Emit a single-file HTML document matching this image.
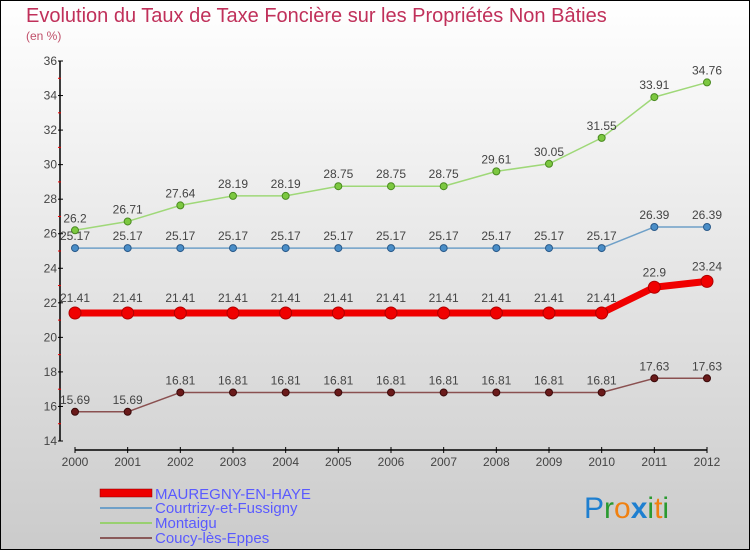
<!DOCTYPE html>
<html><head><meta charset="utf-8"><style>
body{margin:0}
#c{width:750px;height:550px;position:relative;overflow:hidden;font-family:"Liberation Sans",sans-serif}
</style></head><body>
<div id="c">
<svg id="s" width="750" height="550" xmlns="http://www.w3.org/2000/svg" font-family="Liberation Sans, sans-serif">
<defs><linearGradient id="bg" x1="0" y1="0" x2="0" y2="1"><stop offset="0" stop-color="#ffffff"/><stop offset="1" stop-color="#cbcbcb"/></linearGradient></defs>
<rect x="0.5" y="0.5" width="749" height="549" fill="url(#bg)" stroke="#000"/>
<text x="26" y="22" font-size="20" fill="#c0305a">Evolution du Taux de Taxe Foncière sur les Propriétés Non Bâties</text>
<text x="26" y="40" font-size="12" fill="#c0506a">(en %)</text>
<g id="axes"></g><g id="series"></g>
<g>
<rect x="100" y="489" width="52" height="8" fill="#e00" stroke="#800" stroke-width="0.5"/>
<text x="155" y="499" font-size="15" fill="#5a5aff">MAUREGNY-EN-HAYE</text>
<line x1="100" y1="508" x2="152" y2="508" stroke="#6fa0c8" stroke-width="2"/>
<text x="155" y="513" font-size="15" fill="#5a5aff">Courtrizy-et-Fussigny</text>
<line x1="100" y1="523" x2="152" y2="523" stroke="#99d070" stroke-width="2"/>
<text x="155" y="528" font-size="15" fill="#5a5aff">Montaigu</text>
<line x1="100" y1="538" x2="152" y2="538" stroke="#8a5a5a" stroke-width="2"/>
<text x="155" y="543" font-size="15" fill="#5a5aff">Coucy-lès-Eppes</text>
</g>
<g font-size="30" font-family="Liberation Sans, sans-serif">
<text x="584" y="518"><tspan fill="#1e7fd0">P</tspan><tspan fill="#2a9a30">r</tspan><tspan fill="#f08010">o</tspan><tspan fill="#1e7fd0" font-weight="bold">x</tspan><tspan fill="#2a9a30">i</tspan><tspan fill="#f08010">t</tspan><tspan fill="#2a9a30">i</tspan></text>
</g>
</svg>
</div>
<script>
const years=["2000","2001","2002","2003","2004","2005","2006","2007","2008","2009","2010","2011","2012"];
const yTicks=[14,16,18,20,22,24,26,28,30,32,34,36];
const mauregny=[21.41,21.41,21.41,21.41,21.41,21.41,21.41,21.41,21.41,21.41,21.41,22.9,23.24];
const mauregnyLabels=["21.41","21.41","21.41","21.41","21.41","21.41","21.41","21.41","21.41","21.41","21.41","22.9","23.24"];
const courtrizy=[25.17,25.17,25.17,25.17,25.17,25.17,25.17,25.17,25.17,25.17,25.17,26.39,26.39];
const montaigu=[26.2,26.71,27.64,28.19,28.19,28.75,28.75,28.75,29.61,30.05,31.55,33.91,34.76];
const coucy=[15.69,15.69,16.81,16.81,16.81,16.81,16.81,16.81,16.81,16.81,16.81,17.63,17.63];
const NS="http://www.w3.org/2000/svg";
function xS(i){return 75+i*(707-75)/12;}
function yS(v){return 441-(v-14)*(441-61)/22;}
function mk(t,a,p){const e=document.createElementNS(NS,t);for(const k in a)e.setAttribute(k,a[k]);p.appendChild(e);return e;}
const ax=document.getElementById('axes');
let e=mk('line',{x1:60,y1:61,x2:60,y2:441,stroke:'#000','stroke-width':1.5},ax);

yTicks.forEach(v=>{
 mk('line',{x1:58,y1:yS(v),x2:63,y2:yS(v),stroke:'#000'},ax);
 if(v<36){mk('line',{x1:58,y1:yS(v+1),x2:61,y2:yS(v+1),stroke:'#e00'},ax);}
 const t=mk('text',{x:57,y:yS(v)+4,'font-size':12,fill:'#444','text-anchor':'end'},ax);
 t.textContent=v;
 
});
e=mk('line',{x1:75,y1:450,x2:707,y2:450,stroke:'#000','stroke-width':1.5},ax);

years.forEach((y,i)=>{
 mk('line',{x1:xS(i),y1:447,x2:xS(i),y2:453,stroke:'#000'},ax);
 const t=mk('text',{x:xS(i),y:466,'font-size':12,fill:'#444','text-anchor':'middle'},ax);
 t.textContent=y;
 
});
const sg=document.getElementById('series');
function series(name,vals,labels,color,dot,dotStroke,w,r){
 const g=mk('g',{},sg);
 
 const l=mk('polyline',{points:vals.map((v,i)=>xS(i)+','+yS(v)).join(' '),fill:'none',stroke:color,'stroke-width':w,'stroke-linejoin':'round'},g);
 
 vals.forEach((v,i)=>{
  const c=mk('circle',{cx:xS(i),cy:yS(v),r:r,fill:dot,stroke:dotStroke,'stroke-width':1},g);
  
  const t=mk('text',{x:xS(i),y:yS(v)-8-(r>4?3:0),'font-size':12,fill:'#444','text-anchor':'middle'},g);
  t.textContent=labels?labels[i]:String(v);
  
 });
}
series('montaigu',montaigu,null,'#9fd878','#7cc840','#4a8a20',1.5,3.5);
series('courtrizy',courtrizy,null,'#6fa0c8','#4a8ec8','#2a5a8a',1.5,3.5);
series('coucy',coucy,null,'#8a5050','#6a1a1a','#3a0a0a',1.5,3.5);
series('mauregny',mauregny,mauregnyLabels,'#f00000','#f00000','#b00000',7,6);
</script>
</body></html>
